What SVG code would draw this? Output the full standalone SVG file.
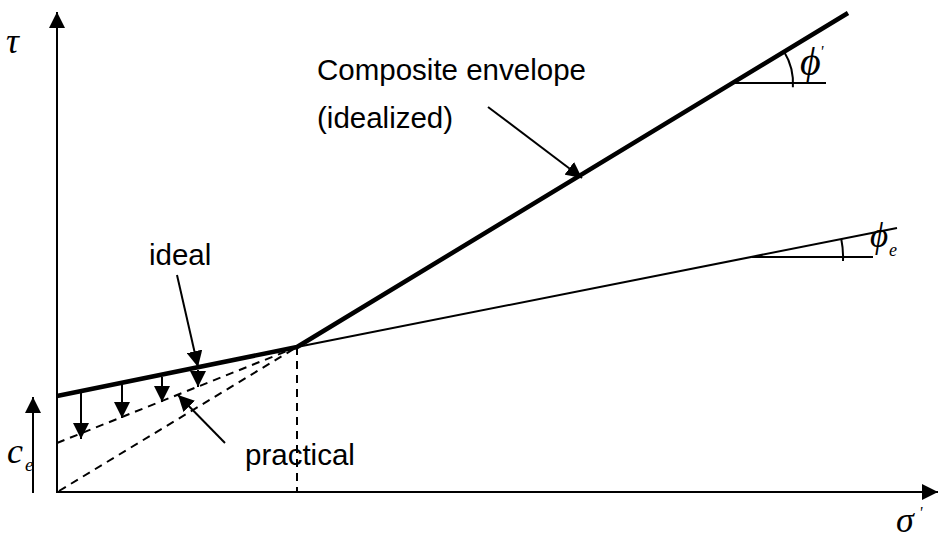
<svg xmlns="http://www.w3.org/2000/svg" width="938" height="541" viewBox="0 0 938 541">
<style>
.lbl{font-family:"Liberation Sans",Arial,sans-serif;font-size:29.5px;fill:#000}
.sym{font-family:"Liberation Serif","Times New Roman",serif;font-style:italic;fill:#000}
.thin{stroke:#000;stroke-width:2;fill:none}
.thick{stroke:#000;stroke-width:4.5;fill:none}
.dash{stroke:#000;stroke-width:2;fill:none;stroke-dasharray:8 6}
.arr{stroke:#000;stroke-width:2;fill:none;marker-end:url(#ah)}
</style>
<defs>
<marker id="ah" markerUnits="userSpaceOnUse" markerWidth="16" markerHeight="16" refX="16" refY="8" orient="auto" viewBox="0 0 16 16">
<path d="M0,0 L16,8 L0,16 z" fill="#000"/>
</marker>
</defs>
<g id="axes">
<line class="arr" x1="57" y1="493" x2="57" y2="12"/>
<line class="arr" x1="56" y1="492" x2="938" y2="492"/>
<text class="sym" x="6" y="53" font-size="36">τ</text>
<text class="sym" x="896" y="532" font-size="36">σ</text>
<text class="sym" x="919" y="518" font-size="16">'</text>
</g>
<g id="envelope">
<polyline class="thick" points="57,396 297,347 848,13"/>
<line class="thin" x1="297" y1="347" x2="897" y2="228"/>
<line class="dash" x1="57" y1="443" x2="297" y2="347"/>
<line class="dash" x1="59" y1="491" x2="297" y2="347"/>
<line class="dash" x1="297" y1="347" x2="297" y2="492"/>
</g>
<g id="phi-prime">
<line class="thin" x1="732" y1="83" x2="826" y2="83"/>
<path class="thin" d="M784,51.4 A61,61 0 0 1 792.9,87.3"/>
<text class="sym" x="800" y="75" font-size="40">ϕ</text>
<text class="sym" x="820" y="57" font-size="16">'</text>
</g>
<g id="phi-e">
<line class="thin" x1="752" y1="257" x2="873" y2="257"/>
<path class="thin" d="M841.3,239.3 A91,91 0 0 1 843,261"/>
<text class="sym" x="870" y="247" font-size="35">ϕ</text>
<text class="sym" x="889" y="256" font-size="18">e</text>
</g>
<g id="ce">
<line class="arr" x1="33" y1="493" x2="33" y2="397"/>
<text class="sym" x="7" y="463" font-size="36">c</text>
<text class="sym" x="25" y="471" font-size="19">e</text>
</g>
<g id="connectors">
<line class="arr" x1="81" y1="393" x2="81" y2="439"/>
<line class="arr" x1="122" y1="384" x2="122" y2="418"/>
<line class="arr" x1="162" y1="377" x2="162" y2="402"/>
<line class="arr" x1="198" y1="370" x2="198" y2="387"/>
<line class="arr" x1="177" y1="275" x2="198" y2="367"/>
<line class="arr" x1="225" y1="443" x2="178" y2="395"/>
<line class="arr" x1="488" y1="107" x2="582" y2="178"/>
</g>
<g id="labels">
<text class="lbl" x="317" y="80">Composite envelope</text>
<text class="lbl" x="317" y="128">(idealized)</text>
<text class="lbl" x="149" y="265">ideal</text>
<text class="lbl" x="245" y="465">practical</text>
</g>
</svg>
